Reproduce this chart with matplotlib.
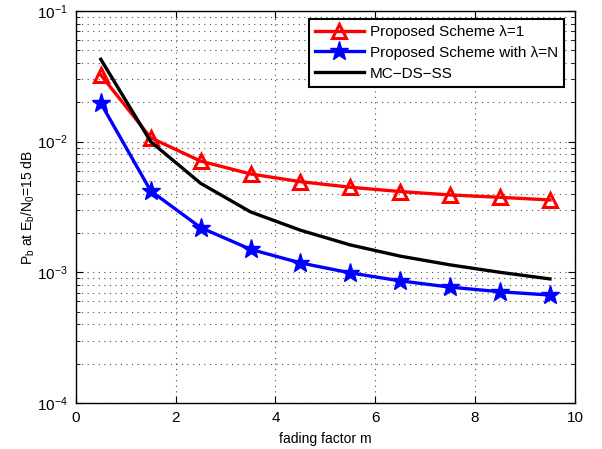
import numpy as np
import matplotlib
matplotlib.use('Agg')
from matplotlib import pyplot as plt
from matplotlib.ticker import LogLocator, NullFormatter

plt.rcParams['font.family'] = ['Liberation Sans', 'DejaVu Sans']

m = [0.5, 1.5, 2.5, 3.5, 4.5, 5.5, 6.5, 7.5, 8.5, 9.5]
pb_lambda1 = [0.0324, 0.0107, 0.0071, 0.00566, 0.00494, 0.00448, 0.00415, 0.00391, 0.00375, 0.00358]
pb_lambdaN = [0.0197, 0.0042, 0.0022, 0.00150, 0.00118, 0.00099, 0.00086, 0.00077, 0.00071, 0.00067]
pb_mcdsss = [0.0427, 0.0100, 0.0048, 0.0029, 0.0021, 0.00162, 0.00133, 0.00114, 0.00100, 0.00089]

fig = plt.figure(figsize=(6.02, 4.49), dpi=100)
ax = fig.add_axes([0.126, 0.1025, 0.829, 0.873])

ax.semilogy(m, pb_lambda1, color='red', lw=2.4, marker='^', ms=10, mfc='none', mew=2.2,
            label='Proposed Scheme \u03bb=1')
ax.semilogy(m, pb_lambdaN, color='blue', lw=2.4, marker='*', ms=14,
            label='Proposed Scheme with \u03bb=N')
ax.semilogy(m, pb_mcdsss, color='black', lw=2.4, label='MC\u2212DS\u2212SS')

ax.set_xlim(0, 10)
ax.set_ylim(1e-4, 1e-1)
ax.set_xticks([0, 2, 4, 6, 8, 10])
ax.yaxis.set_major_locator(LogLocator(base=10))
ax.yaxis.set_minor_locator(LogLocator(base=10, subs=np.arange(2, 10)))
ax.yaxis.set_minor_formatter(NullFormatter())

dots = (0, (1, 4))
ax.grid(True, which='major', linestyle=dots, color='0.3', lw=0.8)
ax.grid(True, which='minor', axis='y', linestyle=dots, color='0.3', lw=0.8)
ax.tick_params(which='both', direction='in', top=True, right=True, labelsize=11, pad=6)
ax.tick_params(which='major', length=5)
ax.tick_params(which='minor', length=3)
for s in ax.spines.values():
    s.set_linewidth(1.0)

ax.set_xlabel('fading factor m', fontsize=10, labelpad=5)
ax.set_ylabel('P$_\\mathregular{b}$ at E$_\\mathregular{b}$/N$_\\mathregular{0}$=15 dB', fontsize=10, labelpad=0)

leg = ax.legend(loc='upper right', bbox_to_anchor=(0.978, 0.98), fontsize=11, fancybox=False,
                edgecolor='black', framealpha=1, handlelength=3.2, borderpad=0.4,
                labelspacing=0.45, handletextpad=0.4, borderaxespad=0)
leg.get_frame().set_linewidth(1.5)

fig.savefig('out.png', dpi=100)
